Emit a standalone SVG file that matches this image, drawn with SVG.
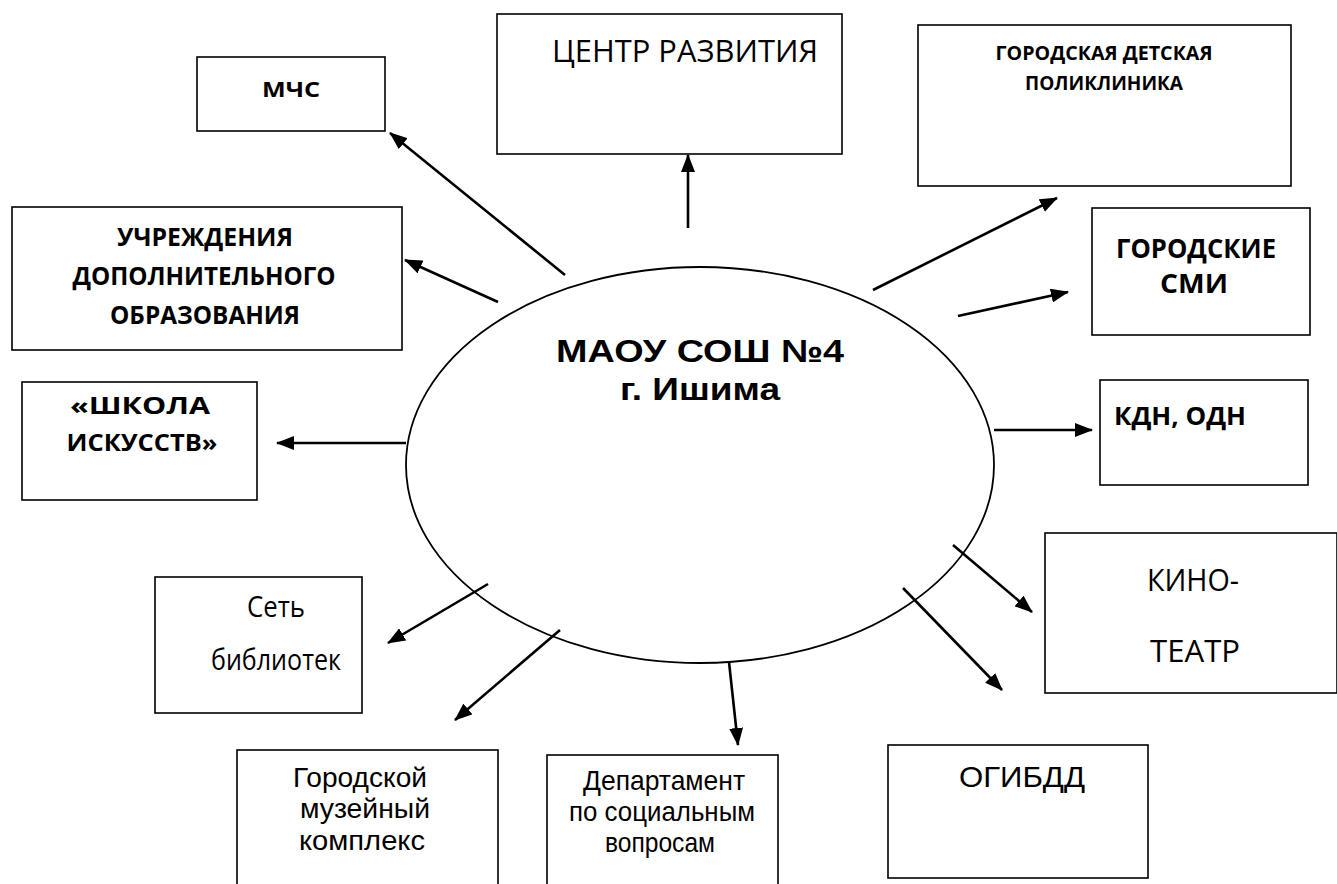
<svg xmlns="http://www.w3.org/2000/svg" width="1337" height="884" viewBox="0 0 1337 884">
<style>
.box{fill:#fff;stroke:#000;stroke-width:1.6}
.c{font-family:"Open Sans","Noto Sans",sans-serif;fill:#000;text-anchor:middle}
.cb{font-family:"Open Sans","Noto Sans",sans-serif;font-weight:bold;fill:#000;text-anchor:middle}
.a{font-family:"Liberation Sans",Arial,sans-serif;fill:#000;text-anchor:middle}
.ab{font-family:"Liberation Sans",Arial,sans-serif;font-weight:bold;fill:#000;text-anchor:middle}
.ln{stroke:#000;stroke-width:2.6;fill:none;marker-end:url(#ah)}
</style>
<defs>
<marker id="ah" markerUnits="userSpaceOnUse" markerWidth="18" markerHeight="14" refX="17" refY="7" orient="auto">
<path d="M0,0 L18,7 L0,14 z" fill="#000"/>
</marker>
</defs>
<rect width="1337" height="884" fill="#fff"/>

<g id="center">
<ellipse cx="700" cy="465" rx="294" ry="198" fill="#fff" stroke="#000" stroke-width="1.8"/>
<text class="ab" x="700" y="362" font-size="32" textLength="288" lengthAdjust="spacingAndGlyphs">МАОУ СОШ №4</text>
<text class="ab" x="700" y="400" font-size="32" textLength="160" lengthAdjust="spacingAndGlyphs">г. Ишима</text>
</g>

<g id="mchs">
<rect class="box" x="197" y="57" width="188" height="74"/>
<text class="cb" x="291" y="97" font-size="21" textLength="58" lengthAdjust="spacingAndGlyphs">МЧС</text>
</g>

<g id="centr">
<rect class="box" x="497" y="14" width="345" height="140"/>
<text class="c" x="685" y="62" font-size="31" textLength="266" lengthAdjust="spacingAndGlyphs">ЦЕНТР РАЗВИТИЯ</text>
</g>

<g id="poliklinika">
<rect class="box" x="918" y="25" width="373" height="161"/>
<text class="cb" x="1104" y="60" font-size="20" textLength="217" lengthAdjust="spacingAndGlyphs">ГОРОДСКАЯ ДЕТСКАЯ</text>
<text class="cb" x="1104" y="90" font-size="20" textLength="158" lengthAdjust="spacingAndGlyphs">ПОЛИКЛИНИКА</text>
</g>

<g id="smi">
<rect class="box" x="1092" y="208" width="218" height="127"/>
<text class="cb" x="1196" y="258" font-size="26" textLength="160" lengthAdjust="spacingAndGlyphs">ГОРОДСКИЕ</text>
<text class="cb" x="1194" y="293" font-size="26" textLength="68" lengthAdjust="spacingAndGlyphs">СМИ</text>
</g>

<g id="kdn">
<rect class="box" x="1100" y="380" width="208" height="105"/>
<text class="cb" x="1180" y="425" font-size="25" textLength="132" lengthAdjust="spacingAndGlyphs">КДН, ОДН</text>
</g>

<g id="kino">
<rect class="box" x="1045" y="533" width="292" height="160"/>
<text class="c" x="1193" y="591" font-size="31" textLength="92" lengthAdjust="spacingAndGlyphs">КИНО-</text>
<text class="c" x="1195" y="662" font-size="31" textLength="90" lengthAdjust="spacingAndGlyphs">ТЕАТР</text>
</g>

<g id="ogibdd">
<rect class="box" x="888" y="745" width="260" height="133"/>
<text class="a" x="1022" y="787" font-size="30" textLength="126" lengthAdjust="spacingAndGlyphs">ОГИБДД</text>
</g>

<g id="departament">
<rect class="box" x="547" y="755" width="231" height="135"/>
<text class="a" x="664" y="790" font-size="28" textLength="162" lengthAdjust="spacingAndGlyphs">Департамент</text>
<text class="a" x="662" y="821" font-size="28" textLength="186" lengthAdjust="spacingAndGlyphs">по социальным</text>
<text class="a" x="660" y="852" font-size="28" textLength="110" lengthAdjust="spacingAndGlyphs">вопросам</text>
</g>

<g id="muzei">
<rect class="box" x="237" y="750" width="261" height="140"/>
<text class="a" x="360" y="787" font-size="28" textLength="134" lengthAdjust="spacingAndGlyphs">Городской</text>
<text class="a" x="365" y="818" font-size="28" textLength="130" lengthAdjust="spacingAndGlyphs">музейный</text>
<text class="a" x="362" y="850" font-size="28" textLength="126" lengthAdjust="spacingAndGlyphs">комплекс</text>
</g>

<g id="biblioteki">
<rect class="box" x="155" y="577" width="207" height="136"/>
<text class="c" x="276" y="617" font-size="30" textLength="58" lengthAdjust="spacingAndGlyphs">Сеть</text>
<text class="c" x="276" y="670" font-size="30" textLength="130" lengthAdjust="spacingAndGlyphs">библиотек</text>
</g>

<g id="shkola">
<rect class="box" x="22" y="382" width="235" height="118"/>
<text class="cb" x="140" y="414" font-size="24" textLength="140" lengthAdjust="spacingAndGlyphs">«ШКОЛА</text>
<text class="cb" x="142" y="451" font-size="24" textLength="151" lengthAdjust="spacingAndGlyphs">ИСКУССТВ»</text>
</g>

<g id="uchrezhdeniya">
<rect class="box" x="12" y="207" width="390" height="143"/>
<text class="cb" x="205" y="246" font-size="25" textLength="176" lengthAdjust="spacingAndGlyphs">УЧРЕЖДЕНИЯ</text>
<text class="cb" x="204" y="285" font-size="25" textLength="263" lengthAdjust="spacingAndGlyphs">ДОПОЛНИТЕЛЬНОГО</text>
<text class="cb" x="205" y="324" font-size="25" textLength="190" lengthAdjust="spacingAndGlyphs">ОБРАЗОВАНИЯ</text>
</g>

<g id="connectors">
<line class="ln" x1="565" y1="275" x2="390" y2="133"/>
<line class="ln" x1="688" y1="228" x2="688" y2="155"/>
<line class="ln" x1="873" y1="290" x2="1057" y2="198"/>
<line class="ln" x1="958" y1="316" x2="1068" y2="292"/>
<line class="ln" x1="994" y1="430" x2="1092" y2="430"/>
<line class="ln" x1="953" y1="545" x2="1032" y2="612"/>
<line class="ln" x1="903" y1="588" x2="1002" y2="690"/>
<line class="ln" x1="729" y1="662" x2="738" y2="745"/>
<line class="ln" x1="560" y1="630" x2="455" y2="720"/>
<line class="ln" x1="488" y1="584" x2="388" y2="643"/>
<line class="ln" x1="406" y1="443" x2="277" y2="443"/>
<line class="ln" x1="498" y1="302" x2="405" y2="260"/>
</g>
</svg>
